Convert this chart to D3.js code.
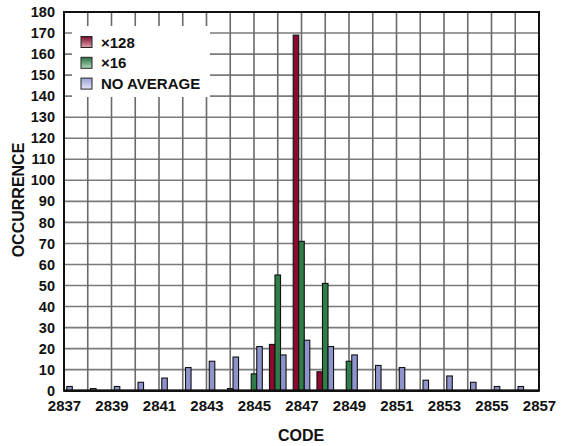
<!DOCTYPE html>
<html>
<head>
<meta charset="utf-8">
<script src="https://cdn.jsdelivr.net/npm/d3@7"></script>
<style>
html,body{margin:0;padding:0;background:#fff;}
svg{display:block;}
text{font-family:"Liberation Sans",Arial,sans-serif;font-weight:bold;fill:#111;}
</style>
</head>
<body>
<svg id="chart" width="574" height="446"></svg>
<script>
const codes = [2837,2838,2839,2840,2841,2842,2843,2844,2845,2846,2847,2848,2849,2850,2851,2852,2853,2854,2855,2856];
const avg128 = [0,0,0,0,0,0,0,0,0,22,169,9,0,0,0,0,0,0,0,0];
const avg16 = [0,0,0,0,0,0,0,1,8,55,71,51,14,0,0,0,0,0,0,0];
const noAvg = [2,1,2,4,6,11,14,16,21,17,24,21,17,12,11,5,7,4,2,2];
const seriesNames = ["\u00d7128","\u00d716","NO AVERAGE"];
const seriesColors = ["#8c0a30","#2f7e48","#8f93cc"];
const legendTop = ["#7a0a28","#2a6e3e","#9aa0d6"];
const legendBottom = ["#e0a0b0","#b0dcbc","#e4e6f6"];
const yTicks = d3.range(0,181,10);
const xTickLabels = [2837,2839,2841,2843,2845,2847,2849,2851,2853,2855,2857];

const svg = d3.select("#chart");
const m = {left:64, right:539, top:12, bottom:390.7};

const x = d3.scaleLinear().domain([2837,2857]).range([m.left,m.right]);
const y = d3.scaleLinear().domain([0,180]).range([m.bottom,m.top]);

// grid
const gridG = svg.append("g");
gridG.selectAll("line.h").data(yTicks.slice(1,-1)).join("line")
  .attr("x1",m.left).attr("x2",m.right)
  .attr("y1",d=>y(d)).attr("y2",d=>y(d))
  .attr("stroke","#7a7a7a").attr("stroke-width",1.6);
gridG.selectAll("line.v").data(d3.range(2838,2857)).join("line")
  .attr("y1",m.top).attr("y2",m.bottom)
  .attr("x1",d=>x(d)).attr("x2",d=>x(d))
  .attr("stroke","#6a6a6a").attr("stroke-width",1.6);

// bars
const inner = d3.scaleBand().domain([0,1,2]).range([-8.3,8.3]).padding(0);
const data = [];
codes.forEach((c,i)=>{
  [avg128[i],avg16[i],noAvg[i]].forEach((v,s)=>{
    if(v>0) data.push({code:c,s:s,v:v});
  });
});
svg.append("g").selectAll("rect").data(data).join("rect")
  .attr("x",d=>x(d.code)+inner(d.s))
  .attr("width",inner.bandwidth())
  .attr("y",d=>y(d.v))
  .attr("height",d=>y(0)-y(d.v))
  .attr("fill",d=>seriesColors[d.s])
  .attr("stroke","#111").attr("stroke-width",1.1);

// frame
svg.append("rect").attr("x",m.left).attr("y",m.top)
  .attr("width",m.right-m.left).attr("height",m.bottom-m.top)
  .attr("fill","none").attr("stroke","#111").attr("stroke-width",2);
svg.append("line").attr("x1",m.left).attr("x2",m.right)
  .attr("y1",m.bottom).attr("y2",m.bottom)
  .attr("stroke","#111").attr("stroke-width",2.6);

// legend
const defs = svg.append("defs");
seriesColors.forEach((c,i)=>{
  const g = defs.append("linearGradient").attr("id","lg"+i)
    .attr("x1",0).attr("y1",0).attr("x2",0).attr("y2",1);
  g.append("stop").attr("offset","0%").attr("stop-color",legendTop[i]);
  g.append("stop").attr("offset","100%").attr("stop-color",legendBottom[i]);
});
svg.append("rect").attr("x",72).attr("y",26).attr("width",138).attr("height",71).attr("fill","#fff");
const lg = svg.append("g");
seriesNames.forEach((n,i)=>{
  const cy = 42 + i*20.8;
  lg.append("rect").attr("x",81).attr("y",cy-5.5).attr("width",11).attr("height",11)
    .attr("fill","url(#lg"+i+")").attr("stroke","#222").attr("stroke-width",1);
  lg.append("text").attr("x",101).attr("y",cy+5.5).attr("font-size",15).text(n);
});

// axes
const yAxis = d3.axisLeft(y).tickValues(yTicks).tickSize(0).tickPadding(9);
const yg = svg.append("g").attr("transform",`translate(${m.left},0)`).call(yAxis);
yg.select(".domain").remove();
yg.selectAll("text").attr("font-size",14.5).attr("font-family","Liberation Sans, Arial, sans-serif").attr("font-weight","bold").attr("fill","#111");

const xAxis = d3.axisBottom(x).tickValues(xTickLabels).tickFormat(d3.format("d")).tickSize(0).tickPadding(10);
const xg = svg.append("g").attr("transform",`translate(0,${m.bottom})`).call(xAxis);
xg.select(".domain").remove();
xg.selectAll("text").attr("font-size",15).attr("font-family","Liberation Sans, Arial, sans-serif").attr("font-weight","bold").attr("fill","#111");

svg.append("text").attr("x",301).attr("y",441).attr("text-anchor","middle").attr("font-size",16).text("CODE");
svg.append("text").attr("transform","translate(24,200) rotate(-90)").attr("text-anchor","middle").attr("font-size",16).text("OCCURRENCE");
</script>
</body>
</html>
